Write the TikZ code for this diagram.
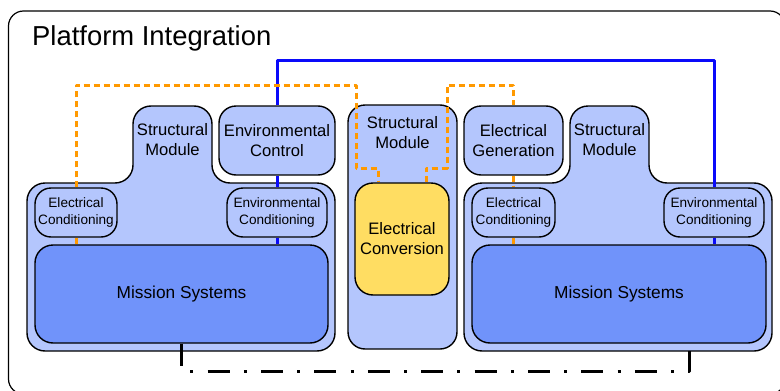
\documentclass[tikz,border=0pt]{standalone}
\usepackage{fontspec}
\setmainfont{Liberation Sans}
\definecolor{lblue}{RGB}{180,198,253}
\definecolor{mblue}{RGB}{112,147,250}
\definecolor{yel}{RGB}{255,221,98}
\definecolor{orng}{RGB}{255,153,0}
\definecolor{wblue}{RGB}{10,10,250}
\begin{document}
\begin{tikzpicture}[x=1pt,y=-1pt,line join=round,
  modshape/.style={draw=black,line width=1.4pt,fill=lblue,rounded corners=18pt},
  boxa/.style={draw=black,line width=1.4pt,fill=lblue,rounded corners=17pt,inner sep=0pt,align=center,font=\fontsize{16.6}{20}\selectfont},
  cond/.style={draw=black,line width=1.4pt,fill=lblue,rounded corners=16pt,inner sep=0pt,align=center,font=\fontsize{13.6}{17}\selectfont,minimum height=49pt},
  mission/.style={draw=black,line width=1.4pt,fill=mblue,rounded corners=18pt,inner sep=0pt,minimum height=98pt,font=\fontsize{17.3}{20}\selectfont},
  lbl/.style={align=center,inner sep=0pt,font=\fontsize{16.6}{20}\selectfont},
  bluew/.style={draw=wblue,line width=3pt},
  orw/.style={draw=orng,line width=3pt,dash pattern=on 6pt off 4pt},
  sig/.style={draw=black,line width=3pt,dash pattern=on 22pt off 14.2pt on 3pt off 14.2pt}
]
\useasboundingbox (0,0) rectangle (780,391);
% outer frame
\begin{scope}
\clip (0,0) rectangle (780,391);
\draw[line width=1.2pt,rounded corners=15pt] (8.5,11) rectangle (785,394);
\end{scope}
\node[anchor=base west,inner sep=0pt,font=\fontsize{27.4}{30}\selectfont] (title) at (32,45) {Platform Integration};
% left module
\draw[modshape] (27,260) -- (27,183) -- (133,183) -- (133,106) -- (212,106) -- (212,183) -- (335,183) -- (335,351) -- (27,351) -- cycle;
% right module
\draw[modshape] (464,260) -- (464,183) -- (570,183) -- (570,106) -- (649,106) -- (649,183) -- (772,183) -- (772,351) -- (464,351) -- cycle;
% centre column
\draw[draw=black,line width=1.4pt,fill=lblue,rounded corners=17pt] (348,105) rectangle (457,349);
% labels of structural modules
\node[lbl] (lstruct) at (172.5,140) {Structural\\Module};
\node[lbl] (rstruct) at (609.5,140) {Structural\\Module};
\node[lbl] (cstruct) at (402.5,133) {Structural\\Module};
% boxes
\node[boxa,minimum width=116pt,minimum height=69pt] (envctrl) at (277,140.5) {Environmental\\Control};
\node[boxa,minimum width=99pt,minimum height=69pt] (elgen) at (513.5,140.5) {Electrical\\Generation};
\node[cond,minimum width=82pt] (lelcond) at (76,212.5) {Electrical\\Conditioning};
\node[cond,minimum width=100pt] (lenvcond) at (277,212.5) {Environmental\\Conditioning};
\node[cond,minimum width=83pt] (relcond) at (513.5,212.5) {Electrical\\Conditioning};
\node[cond,minimum width=100pt] (renvcond) at (714,212.5) {Environmental\\Conditioning};
\node[mission,minimum width=293pt] (lmission) at (181.5,294) {Mission Systems};
\node[mission,minimum width=294pt] (rmission) at (619,294) {Mission Systems};
\node[boxa,fill=yel,minimum width=94pt,minimum height=112pt,rounded corners=18pt] (conv) at (402,239) {Electrical\\Conversion};
% connectors
\coordinate (convL) at ([xshift=-24pt]conv.north);
\coordinate (convR) at ([xshift=24pt]conv.north);
\draw[bluew] (envctrl.north) |- (714,60) -- (renvcond.north);
\draw[bluew] (envctrl.south) -- (lenvcond.north);
\draw[bluew] (lenvcond.south) -- (lenvcond.south |- lmission.north);
\draw[bluew] (renvcond.south) -- (renvcond.south |- rmission.north);
\draw[orw] (lelcond.north) |- (356,85) -- (356,168) -| (convL);
\draw[orw] (convR) |- (447,168) -- (447,85) -| (elgen.north);
\draw[orw] (elgen.south) -- (relcond.north);
\draw[orw] (relcond.south) -- (relcond.south |- rmission.north);
\draw[orw] (lelcond.south) -- (lelcond.south |- lmission.north);
\coordinate (rsig) at (689,351);
\draw[sig] (lmission.south) -- (lmission.south |- 0,371) -| (rsig);
\end{tikzpicture}
\end{document}
